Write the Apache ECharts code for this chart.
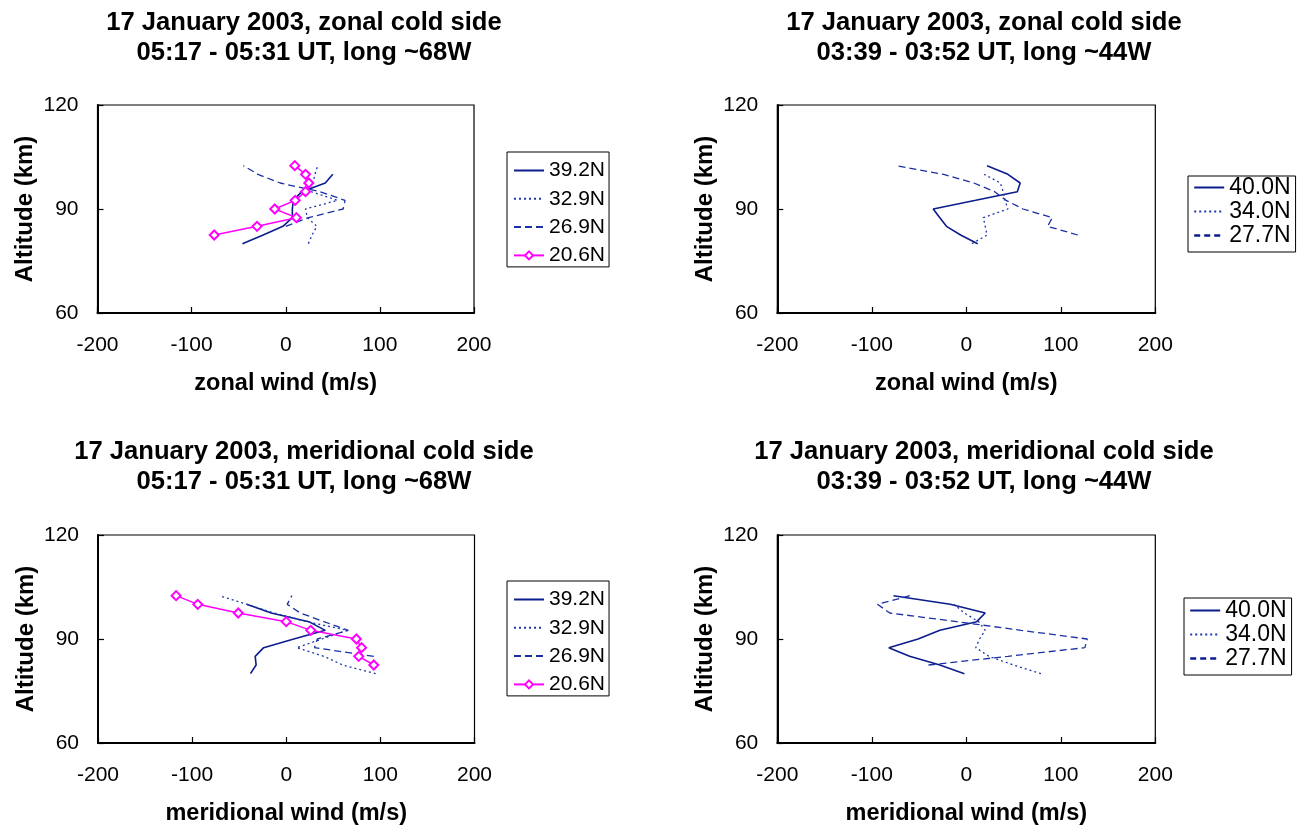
<!DOCTYPE html>
<html>
<head>
<meta charset="utf-8">
<script src="https://cdn.jsdelivr.net/npm/echarts@6/dist/echarts.min.js"></script>
<style>
  html, body { margin: 0; padding: 0; background: #ffffff; }
  #chart { width: 1298px; height: 827px; }
</style>
</head>
<body>
<div id="chart"></div>
<script>
// Altitude levels (km) shared by every profile; null = no measurement at that level
const altitudes = [80, 82.5, 85, 87.5, 90, 92.5, 95, 97.5, 100, 102.5];

// Axis tick values
const windTicks = [-200, -100, 0, 100, 200];
const altitudeTicks = [60, 90, 120];

// Zonal wind (m/s), 05:17 - 05:31 UT, long ~68W
const zonal68_392N = [-46, -24, -3, 7, 7, 8, 17, 42, 50, null];
const zonal68_329N = [24, 28, 33, 23, 21, 55, 27, 29, 31, 34];
const zonal68_269N = [null, null, 0, 24, 61, 63, 36, -6, -29.5, -45];
const zonal68_206N = [null, -76, -30.5, 11.3, -11.7, 10, 21, 24.5, 21, 9.6];

// Zonal wind (m/s), 03:39 - 03:52 UT, long ~44W
const zonal44_400N = [12, -6, -21, -28, -35, 10, 54, 57, 44, 22];
const zonal44_340N = [6, 22, 20, 18, 44, 41, 39, 36, 19, null];
const zonal44_277N = [null, 118, 86, 91, 60, 42, 30, 8, -24, -74.5];

// Meridional wind (m/s), 05:17 - 05:31 UT, long ~68W
const merid68_392N = [-38, -32, -33, -24, 8, 41.5, 24, -16, -42, null];
const merid68_329N = [95, 60, 40, 11, 38, 65, 22, -13, -42, -71];
const merid68_269N = [null, null, 93, 30, 33, 66, 40, 15, 1, 6];
const merid68_206N = [null, 93, 77, 80, 74.5, 26, 0, -51, -94, -117];

// Meridional wind (m/s), 03:39 - 03:52 UT, long ~44W
const merid44_400N = [-2, -28, -60, -82, -51, -28, 11, 20, -17, -77];
const merid44_340N = [79, 50, 24, 10, 14, 20, 13, -2, -13, null];
const merid44_277N = [null, -40, 44, 125.5, 128, 58, -10, -81, -94, -59.6];

// Latitude labels
const latWest = ['39.2N', '32.9N', '26.9N', '20.6N'];
const latEast = ['40.0N', '34.0N', '27.7N'];

const FONT = '"Liberation Sans", Arial, Helvetica, sans-serif';

const lineStyles = {
  solid:   { color: '#0b1d8c', width: 1.6, type: 'solid' },
  dotted:  { color: '#1f37ab', width: 1.3, type: [2, 3] },
  dashed:  { color: '#1a30a3', width: 1.3, type: [7, 4] },
  magenta: { color: '#ff00ff', width: 1.5, type: 'solid' }
};

const panels = [
  {
    grid: { left: 97.5, top: 105, width: 376.5, height: 208 },
    title: ['17 January 2003, zonal cold side', '05:17 - 05:31 UT, long ~68W'],
    titleX: 304, titleY: 23,
    xName: 'zonal wind (m/s)',
    lines: [
      [latWest[0], zonal68_392N, 'solid'],
      [latWest[1], zonal68_329N, 'dotted'],
      [latWest[2], zonal68_269N, 'dashed'],
      [latWest[3], zonal68_206N, 'magenta']
    ],
    legend: { left: 507, top: 152, itemGap: 7.3, fontSize: 21, padding: [8, 4, 1, 6], boldDash: false }
  },
  {
    grid: { left: 777.3, top: 105, width: 378, height: 208 },
    title: ['17 January 2003, zonal cold side', '03:39 - 03:52 UT, long ~44W'],
    titleX: 984, titleY: 23,
    xName: 'zonal wind (m/s)',
    lines: [
      [latEast[0], zonal44_400N, 'solid'],
      [latEast[1], zonal44_340N, 'dotted'],
      [latEast[2], zonal44_277N, 'dashed']
    ],
    legend: { left: 1188, top: 176, itemGap: 1, fontSize: 23, padding: [0, 5, 5, 5], boldDash: true }
  },
  {
    grid: { left: 98, top: 535, width: 376.5, height: 208 },
    title: ['17 January 2003, meridional cold side', '05:17 - 05:31 UT, long ~68W'],
    titleX: 304, titleY: 452,
    xName: 'meridional wind (m/s)',
    lines: [
      [latWest[0], merid68_392N, 'solid'],
      [latWest[1], merid68_329N, 'dotted'],
      [latWest[2], merid68_269N, 'dashed'],
      [latWest[3], merid68_206N, 'magenta']
    ],
    legend: { left: 507, top: 581, itemGap: 7.3, fontSize: 21, padding: [8, 4, 1, 6], boldDash: false }
  },
  {
    grid: { left: 777.3, top: 535, width: 378, height: 208 },
    title: ['17 January 2003, meridional cold side', '03:39 - 03:52 UT, long ~44W'],
    titleX: 984, titleY: 452,
    xName: 'meridional wind (m/s)',
    lines: [
      [latEast[0], merid44_400N, 'solid'],
      [latEast[1], merid44_340N, 'dotted'],
      [latEast[2], merid44_277N, 'dashed']
    ],
    legend: { left: 1184, top: 598, itemGap: 1, fontSize: 23, padding: [1, 5, 5, 5], boldDash: true }
  }
];

// Pair each wind value with its altitude, skipping missing levels
function toPoints(values) {
  const pts = [];
  values.forEach((v, i) => { if (v !== null) pts.push([v, altitudes[i]]); });
  return pts;
}

const option = {
  animation: false,
  backgroundColor: '#ffffff',
  textStyle: { fontFamily: FONT, color: '#000' },
  grid: [], xAxis: [], yAxis: [], legend: [], series: [], graphic: []
};

panels.forEach((p, gi) => {
  option.grid.push(Object.assign({
    show: true, borderColor: '#000', borderWidth: 1.2, backgroundColor: '#fff', containLabel: false
  }, p.grid));

  option.xAxis.push({
    type: 'value', gridIndex: gi,
    min: windTicks[0], max: windTicks[windTicks.length - 1],
    interval: windTicks[1] - windTicks[0],
    name: p.xName, nameLocation: 'middle', nameGap: 59,
    nameTextStyle: { fontFamily: FONT, fontWeight: 'bold', fontSize: 23.5, color: '#000' },
    axisLine: { show: true, onZero: false, lineStyle: { color: '#000', width: 2 } },
    axisTick: { show: true, inside: true, length: 6, lineStyle: { color: '#000', width: 1.2 } },
    axisLabel: { margin: 22, fontFamily: FONT, fontSize: 21, color: '#000' },
    splitLine: { show: false }
  });

  option.yAxis.push({
    type: 'value', gridIndex: gi,
    min: altitudeTicks[0], max: altitudeTicks[altitudeTicks.length - 1],
    interval: altitudeTicks[1] - altitudeTicks[0],
    name: 'Altitude (km)', nameLocation: 'middle', nameGap: 60,
    nameTextStyle: { fontFamily: FONT, fontWeight: 'bold', fontSize: 24, color: '#000' },
    axisLine: { show: true, onZero: false, lineStyle: { color: '#000', width: 2 } },
    axisTick: { show: true, inside: true, length: 6, lineStyle: { color: '#000', width: 1.2 } },
    axisLabel: { margin: 19, fontFamily: FONT, fontSize: 21, color: '#000' },
    splitLine: { show: false }
  });

  p.lines.forEach(([name, values, styleKey]) => {
    const ls = lineStyles[styleKey];
    const s = {
      type: 'line', name: name,
      xAxisIndex: gi, yAxisIndex: gi,
      data: toPoints(values),
      lineStyle: { color: ls.color, width: ls.width, type: ls.type },
      itemStyle: { color: ls.color },
      color: ls.color,
      symbol: 'none',
      z: styleKey === 'magenta' ? 5 : 3
    };
    if (styleKey === 'magenta') {
      s.symbol = 'emptyDiamond';
      s.symbolSize = 9;
      s.showSymbol = true;
      s.itemStyle = { color: ls.color, borderColor: ls.color, borderWidth: 1.4 };
    }
    option.series.push(s);
  });

  // Plain line keys for the blue profiles, line + diamond for the marked one
  option.legend.push({
    orient: 'vertical',
    left: p.legend.left, top: p.legend.top,
    data: p.lines.map(([name, , styleKey]) => {
      if (styleKey === 'magenta') return { name: name };
      const item = { name: name, itemStyle: { opacity: 0, color: 'transparent', borderColor: 'transparent' } };
      if (styleKey === 'dashed' && p.legend.boldDash) {
        item.lineStyle = { width: 2.4, color: '#0b1d8c', type: [6, 4] };
      }
      return item;
    }),
    itemWidth: 30, itemHeight: 10,
    itemGap: p.legend.itemGap,
    padding: p.legend.padding,
    borderColor: '#000', borderWidth: 1,
    backgroundColor: '#fff',
    selectedMode: false,
    textStyle: { fontFamily: FONT, fontSize: p.legend.fontSize, color: '#000' }
  });

  p.title.forEach((line, li) => {
    option.graphic.push({
      type: 'text',
      x: p.titleX, y: p.titleY + li * 30,
      style: {
        text: line,
        font: 'bold 25.6px ' + FONT,
        fill: '#000',
        align: 'center',
        verticalAlign: 'middle'
      }
    });
  });
});

const chart = echarts.init(document.getElementById('chart'), null, { renderer: 'canvas' });
chart.setOption(option);
</script>
</body>
</html>
